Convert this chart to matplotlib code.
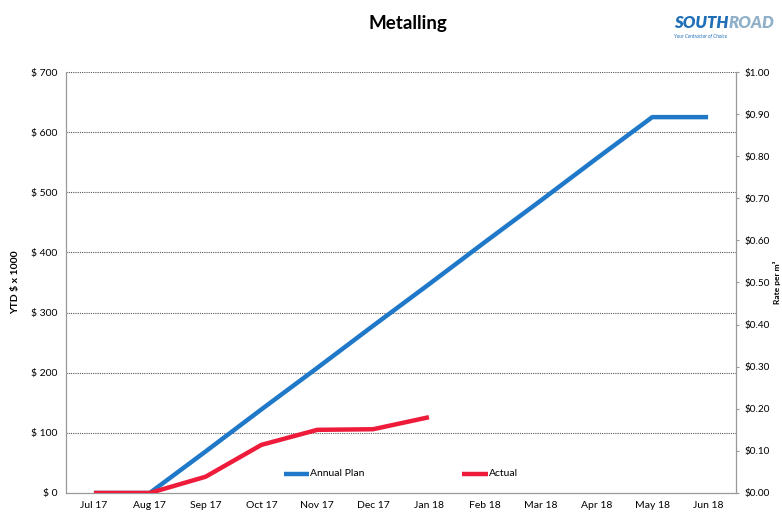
import matplotlib
matplotlib.use("Agg")
import matplotlib.pyplot as plt

# Monthly YTD figures ($ x 1000)
months = ["Jul 17", "Aug 17", "Sep 17", "Oct 17", "Nov 17", "Dec 17",
          "Jan 18", "Feb 18", "Mar 18", "Apr 18", "May 18", "Jun 18"]
annual_plan = [0, 0, 69, 139, 208, 278, 347, 417, 486, 556, 625, 625]
actual = [0, 0, 27, 80, 105, 106, 126]

left_ticks = [0, 100, 200, 300, 400, 500, 600, 700]
right_ticks = [0.0, 0.1, 0.2, 0.3, 0.4, 0.5, 0.6, 0.7, 0.8, 0.9, 1.0]

plt.rcParams['font.family'] = ['Lato', 'DejaVu Sans']

fig = plt.figure(figsize=(7.82, 5.14), dpi=100)
ax = fig.add_axes([0.0844, 0.0409, 0.8568, 0.819])

x = list(range(len(months)))
ax.plot(x, annual_plan, color='#1f78c8', lw=3.2, solid_capstyle='butt', zorder=3)
ax.plot(x[:len(actual)], actual, color='#ee1c3a', lw=3.2, solid_capstyle='butt', zorder=4)

ax.set_xlim(-0.5, len(months) - 0.5)
ax.set_ylim(0, 700)
ax.set_xticks(x)
ax.set_xticklabels(months, fontsize=7.5)
ax.set_yticks(left_ticks)
ax.set_yticklabels(["$ %d" % v for v in left_ticks], fontsize=7.5)
ax.tick_params(axis='both', length=0, pad=6)
ax.set_ylabel("YTD $ x 1000", fontsize=7.5, fontweight='bold', labelpad=8)

for v in left_ticks[1:]:
    ax.axhline(v, color='#555555', lw=0.8, ls=(0, (1, 1)), zorder=1)

for side in ['left', 'right', 'bottom']:
    ax.spines[side].set_color('#999999')
    ax.spines[side].set_linewidth(0.9)
ax.spines['top'].set_visible(False)

ax2 = ax.twinx()
ax2.set_ylim(0, 1.0)
ax2.set_yticks(right_ticks)
ax2.set_yticklabels(["$%.2f" % v for v in right_ticks], fontsize=7.2)
ax2.tick_params(axis='y', length=2, color='#999999', pad=4)
ax2.set_ylabel("Rate per m³", fontsize=6, fontweight='bold', rotation=90, va='center')
ax2.yaxis.set_label_coords(1.0615, 0.5)
for side in ['left', 'right', 'bottom', 'top']:
    ax2.spines[side].set_visible(False)

# legend drawn inside the plot area
ax.plot([3.4, 3.85], [32, 32], color='#1f78c8', lw=3.2, solid_capstyle='butt')
ax.text(3.87, 32, "Annual Plan", fontsize=7.5, va='center')
ax.plot([6.6, 7.05], [32, 32], color='#ee1c3a', lw=3.2, solid_capstyle='butt')
ax.text(7.07, 32, "Actual", fontsize=7.5, va='center')

fig.text(0.522, 0.955, "Metalling", fontsize=13.5, fontweight='bold', ha='center', va='center')

# company logo text
fig.text(0.862, 0.955, "SOUTH", fontsize=12, fontweight='heavy', fontstyle='italic',
         color='#1f6fb8', ha='left', va='center')
fig.text(0.932, 0.955, "ROAD", fontsize=12, fontweight='heavy', fontstyle='italic',
         color='#8fb0c8', ha='left', va='center')
fig.text(0.862, 0.93, "Your Contractor of Choice", fontsize=3.5, fontstyle='italic',
         color='#1f6fb8', ha='left', va='center')

fig.savefig("out.png", dpi=100)
